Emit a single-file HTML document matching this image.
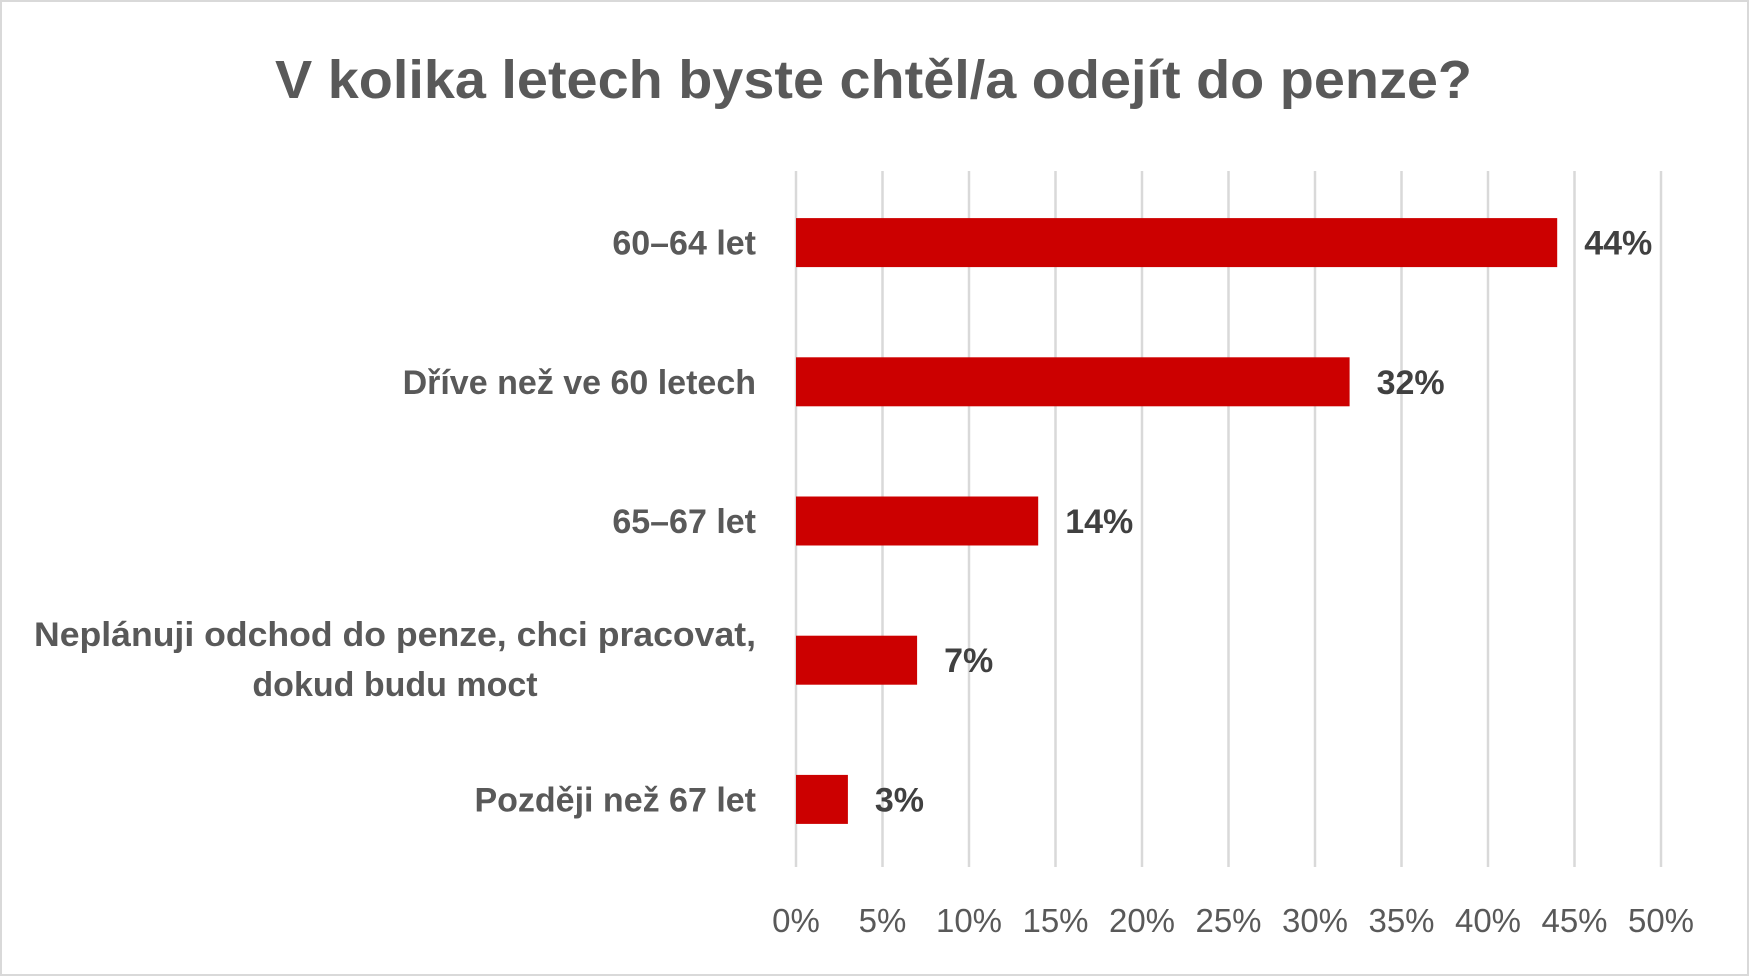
<!DOCTYPE html>
<html><head><meta charset="utf-8"><style>
html,body{margin:0;padding:0;background:#fff;}
svg{display:block;font-family:"Liberation Sans",sans-serif;}
</style></head><body>
<svg id="chart" width="1749" height="976" viewBox="0 0 1749 976" xmlns="http://www.w3.org/2000/svg">
<rect x="1" y="1" width="1747" height="974" fill="#fff" stroke="#d9d9d9" stroke-width="2"/>
<text x="275" y="98" font-size="54" font-weight="bold" fill="#595959" textLength="1197" lengthAdjust="spacingAndGlyphs">V kolika letech byste chtěl/a odejít do penze?</text>
<g id="grid"></g><g id="bars"></g><g id="labels"></g>
</svg>
<script>
const categories = ["60–64 let","Dříve než ve 60 letech","65–67 let","Neplánuji odchod do penze, chci pracovat,|dokud budu moct","Později než 67 let"];
const values = [44,32,14,7,3];
const valueLabels = ["44%","32%","14%","7%","3%"];
const ticks = [0,5,10,15,20,25,30,35,40,45,50];
const tickLabels = ["0%","5%","10%","15%","20%","25%","30%","35%","40%","45%","50%"];

const NS="http://www.w3.org/2000/svg";
const x0=796, x1=1661, plotTop=171, plotBottom=867, vmax=50;
const xs=v=>x0+(x1-x0)*v/vmax;
const band=(plotBottom-plotTop)/categories.length;
const yc=i=>plotTop+band*(i+0.5)+2;
function mk(tag,attrs,parent){const e=document.createElementNS(NS,tag);for(const k in attrs)e.setAttribute(k,attrs[k]);parent.appendChild(e);return e;}
const grid=document.getElementById('grid'),bars=document.getElementById('bars'),labels=document.getElementById('labels');
ticks.forEach((t,i)=>{
  const l=mk('line',{x1:xs(t),x2:xs(t),y1:plotTop,y2:plotBottom,stroke:'#d9d9d9','stroke-width':2.5},grid);
  
  
  const tx=mk('text',{x:xs(t),y:932,'text-anchor':'middle','font-size':33,fill:'#595959'},labels);
  tx.textContent=tickLabels[i];
  
  
});
const bh=49;
categories.forEach((c,i)=>{
  const y=yc(i);
  const r=mk('rect',{x:xs(0),y:y-bh/2,width:xs(values[i])-xs(0),height:bh,fill:'#cc0000'},bars);
  
  
  const v=mk('text',{x:xs(values[i])+27,y:y+12,'font-size':34,'font-weight':'bold',fill:'#404040'},labels);
  v.textContent=valueLabels[i];
  
  
  const parts=c.split('|');
  if(parts.length===1){
    const t=mk('text',{x:756,y:y+12,'text-anchor':'end','font-size':34,'font-weight':'bold',fill:'#595959'},labels);
    t.textContent=c;
    
    
  } else {
    const t=mk('text',{x:756,y:y-14,'text-anchor':'end','font-size':34,'font-weight':'bold',fill:'#595959',textLength:722,lengthAdjust:'spacingAndGlyphs'},labels);
    t.textContent=parts[0];
    
    
    const t2=mk('text',{x:395,y:y+36,'text-anchor':'middle','font-size':34,'font-weight':'bold',fill:'#595959'},labels);
    t2.textContent=parts[1];
    
    
  }
});
</script>
</body></html>
